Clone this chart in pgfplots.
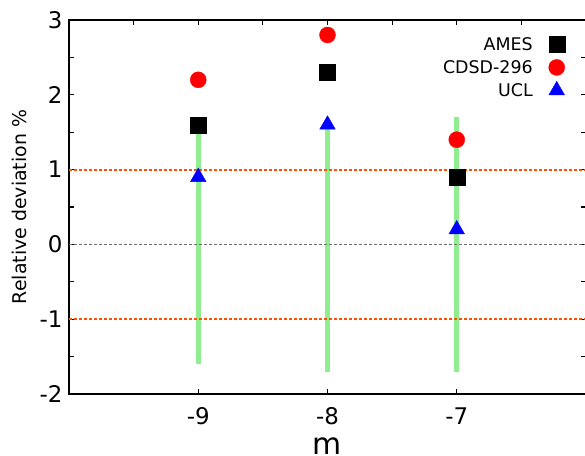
\documentclass[border=0pt]{standalone}
\usepackage{fontspec}
\setmainfont{DejaVu Sans}
\usepackage{pgfplots}
\pgfplotsset{compat=1.18}
\usetikzlibrary{calc}
\definecolor{lgreen}{RGB}{144,238,144}
\definecolor{ored}{RGB}{255,80,0}
\definecolor{dgray}{RGB}{110,110,110}
\begin{document}
\begin{tikzpicture}
\begin{axis}[
  scale only axis, width=517bp, height=374bp,
  xmin=-10, xmax=-6, ymin=-2, ymax=3,
  xtick={-9,-8,-7}, ytick={-2,-1,0,1,2,3}, minor y tick num=1,
  xtick pos=bottom, ytick pos=both,
  tick align=inside,
  major tick length=5bp, minor tick length=5bp,
  axis line style={line width=2.4bp},
  every tick/.style={line width=1.2bp, black},
  tick label style={font=\fontsize{23}{27}\selectfont},
  yticklabel style={xshift=-3bp},
  xticklabel style={yshift=-10bp},
  /pgf/number format/assume math mode=true,
  xlabel={m}, ylabel={Relative deviation \%},
  xlabel style={font=\fontsize{30}{34}\selectfont, yshift=-6bp},
  ylabel style={font=\fontsize{19}{22}\selectfont, yshift=6bp},
  legend style={draw=none, fill=none, at={(0.965,0.965)}, anchor=north east,
    font=\fontsize{17.5}{21}\selectfont, row sep=4.5bp,
    /tikz/every odd column/.append style={column sep=14bp}},
  legend cell align=right, legend plot pos=right,
]
\coordinate (ll) at (rel axis cs:0,0);
% vertical green bars
\addplot[lgreen, line width=5bp, forget plot] coordinates {(-9,-1.6) (-9,1.6)};
\addplot[lgreen, line width=5bp, forget plot] coordinates {(-8,-1.7) (-8,1.6)};
\addplot[lgreen, line width=5bp, forget plot] coordinates {(-7,-1.7) (-7,1.7)};
% reference lines
\addplot[color=ored, mark=none, line width=1.8bp, dash pattern=on 3bp off 2bp, forget plot] coordinates {(-10,1) (-6,1)};
\addplot[color=ored, mark=none, line width=1.8bp, dash pattern=on 3bp off 2bp, forget plot] coordinates {(-10,-1) (-6,-1)};
\addplot[color=dgray, mark=none, line width=1.4bp, dash pattern=on 3bp off 2bp, forget plot] coordinates {(-10,0) (-6,0)};
% data
\addplot[only marks, mark=square*, mark size=8bp, black] coordinates {(-9,1.6) (-8,2.3) (-7,0.9)};
\addlegendentry{AMES}
\addplot[only marks, mark=*, mark size=8bp, red] coordinates {(-9,2.2) (-8,2.8) (-7,1.4)};
\addlegendentry{CDSD-296}
\addplot[only marks, mark=triangle*, mark size=9bp, blue] coordinates {(-9,0.9) (-8,1.6) (-7,0.2)};
\addlegendentry{UCL}
\end{axis}
\begin{axis}[
  scale only axis, width=517bp, height=374bp,
  xmin=-10, xmax=-6, ymin=-2, ymax=3,
  xtick pos=top, ytick=\empty,
  xtick={-9.5,-9,-8.5,-8,-7.5,-7,-6.5}, xticklabels={},
  tick align=inside, major tick length=5bp,
  every tick/.style={line width=1.2bp, black},
  axis line style={draw=none},
]
\end{axis}
\pgfresetboundingbox
\path[use as bounding box] ($(ll)+(-69bp,-62bp)$) rectangle ++(585bp,456bp);
\end{tikzpicture}
\end{document}
